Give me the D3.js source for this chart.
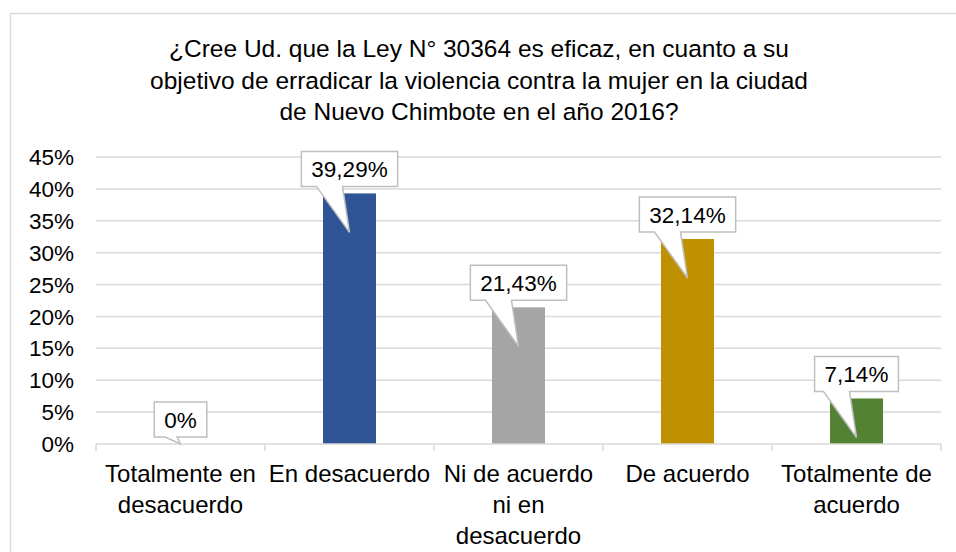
<!DOCTYPE html>
<html lang="es">
<head>
  <meta charset="utf-8">
  <title>Ley N° 30364</title>
  <style>
  body { margin: 0; background: #fff; }
  svg { display: block; font-family: "Liberation Sans", Arial, sans-serif; }
  </style>
  <script src="https://cdn.jsdelivr.net/npm/d3@7/dist/d3.min.js"></script>
</head>
<body>
  <svg width="956" height="552"></svg>
  <script>
  // data
  var categories = ["Totalmente en\ndesacuerdo", "En desacuerdo", "Ni de acuerdo\nni en\ndesacuerdo", "De acuerdo", "Totalmente de\nacuerdo"];
  var values = [0, 39.29, 21.43, 32.14, 7.14];
  var colors = ["#4472C4", "#2F5597", "#A5A5A5", "#BF9000", "#548235"];
  var yTicks = [0, 5, 10, 15, 20, 25, 30, 35, 40, 45];
  var titleLines = [
    "¿Cree Ud. que la Ley N° 30364 es eficaz, en cuanto a su",
    "objetivo de erradicar la violencia contra la mujer en la ciudad",
    "de Nuevo Chimbote en el año 2016?"
  ];

  var svg = d3.select("svg"),
      plot = {left: 96, right: 941, top: 157, bottom: 444},
      grey = "#D9D9D9";

  // chart border (runs off the right and bottom edges)
  svg.append("rect")
      .attr("x", 10.5).attr("y", 13.5)
      .attr("width", 960).attr("height", 560)
      .attr("fill", "none").attr("stroke", grey).attr("stroke-width", 1.5);

  svg.append("text")
      .attr("x", 479).attr("y", 57)
      .attr("text-anchor", "middle")
      .style("font-size", "24.5px")
      .selectAll("tspan")
      .data(titleLines)
      .enter().append("tspan")
        .attr("x", 479)
        .attr("dy", function(d, i) { return i ? 31.5 : 0; })
        .text(function(d) { return d; });

  var x = d3.scaleBand()
      .domain(categories)
      .range([plot.left, plot.right])
      .padding(0);

  var y = d3.scaleLinear()
      .domain([0, 45])
      .range([plot.bottom, plot.top]);

  // gridlines
  svg.append("g")
      .selectAll("line")
      .data(yTicks.slice(1))
      .enter().append("line")
        .attr("x1", plot.left).attr("x2", plot.right)
        .attr("y1", function(d) { return y(d); })
        .attr("y2", function(d) { return y(d); })
        .attr("stroke", grey).attr("stroke-width", 1.5);

  // y axis labels
  svg.append("g")
      .selectAll("text")
      .data(yTicks)
      .enter().append("text")
        .attr("x", 74)
        .attr("y", function(d) { return y(d); })
        .attr("dy", "0.36em")
        .attr("text-anchor", "end")
        .style("font-size", "22.5px")
        .text(function(d) { return d + "%"; });

  // bars
  var barW = 53;
  svg.append("g")
      .selectAll("rect")
      .data(values)
      .enter().append("rect")
        .attr("x", function(d, i) { return x(categories[i]) + x.bandwidth() / 2 - barW / 2; })
        .attr("y", function(d) { return y(d); })
        .attr("width", barW)
        .attr("height", function(d) { return y(0) - y(d); })
        .attr("fill", function(d, i) { return colors[i]; });

  // category axis
  var axis = svg.append("g");
  axis.append("line")
      .attr("x1", plot.left).attr("x2", plot.right)
      .attr("y1", plot.bottom).attr("y2", plot.bottom)
      .attr("stroke", grey).attr("stroke-width", 1.5);
  axis.selectAll(".tick")
      .data(categories.concat([null]))
      .enter().append("line")
        .attr("x1", function(d, i) { return plot.left + i * x.step(); })
        .attr("x2", function(d, i) { return plot.left + i * x.step(); })
        .attr("y1", plot.bottom).attr("y2", plot.bottom + 7)
        .attr("stroke", grey).attr("stroke-width", 1.5);

  axis.selectAll(".cat")
      .data(categories)
      .enter().append("text")
        .attr("class", "cat")
        .attr("text-anchor", "middle")
        .style("font-size", "24px")
        .each(function(d) {
          var cx = x(d) + x.bandwidth() / 2;
          d3.select(this).selectAll("tspan")
            .data(d.split("\n"))
            .enter().append("tspan")
              .attr("x", cx)
              .attr("y", function(t, i) { return 481.5 + i * 31; })
              .text(function(t) { return t; });
        });

  // callout data labels
  var labels = svg.append("g");
  values.forEach(function(v, i) {
    var cx = x(categories[i]) + x.bandwidth() / 2,
        top = y(v),
        txt = v === 0 ? "0%" : v.toFixed(2).replace(".", ",") + "%";

    var g = labels.append("g");
    var path = g.append("path");
    var t = g.append("text")
        .attr("x", cx)
        .attr("text-anchor", "middle")
        .style("font-size", "22.5px")
        .text(txt);

    var w = t.node().getComputedTextLength() + 20,
        h = 35,
        bottom = top - 7,
        tipY = Math.min(top + 39, y(0)),
        drop = tipY - bottom,
        baseR = cx - Math.min(7, drop / 2),
        baseL = baseR - Math.min(26, drop * 1.7);

    t.attr("y", bottom - h / 2).attr("dy", "0.36em");
    path.attr("d", "M" + (cx - w / 2) + "," + (bottom - h) +
        "H" + (cx + w / 2) + "V" + bottom + "H" + baseR +
        "L" + cx + "," + tipY + "L" + baseL + "," + bottom +
        "H" + (cx - w / 2) + "Z")
      .attr("fill", "#fff")
      .attr("stroke", "#BFBFBF")
      .attr("stroke-width", 1.5);
  });
  </script>
</body>
</html>
